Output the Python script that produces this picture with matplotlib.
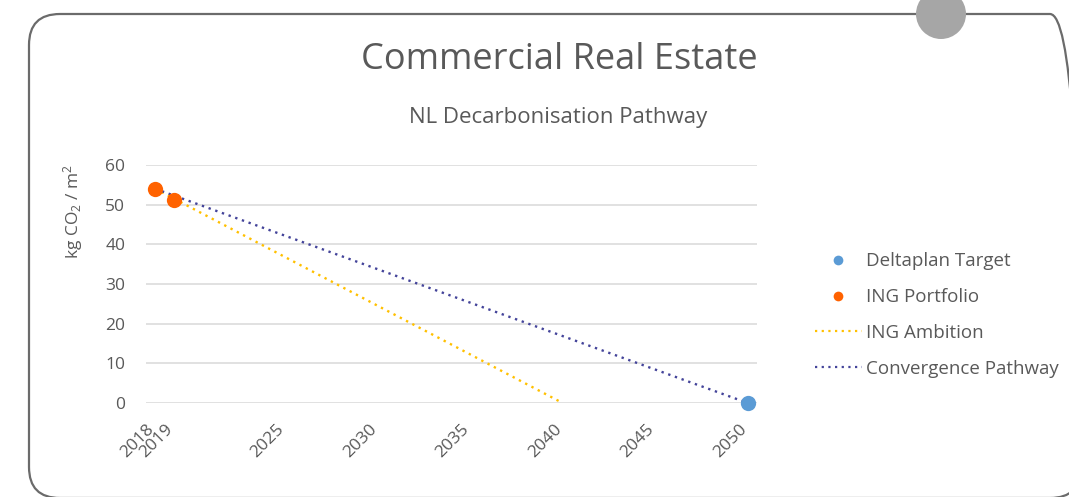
import matplotlib.pyplot as plt
from matplotlib.patches import FancyBboxPatch, Circle
from matplotlib.lines import Line2D
from matplotlib.transforms import ScaledTranslation

plt.rcParams['font.family'] = ['Open Sans', 'DejaVu Sans']
plt.rcParams['mathtext.default'] = 'regular'

# data
portfolio_years = [2018, 2019]
portfolio_vals = [54, 51.3]
target_years = [2050]
target_vals = [0]
ambition_years = [2018, 2040]
ambition_vals = [54, 0]
convergence_years = [2018, 2050]
convergence_vals = [54, 0]
xticks = [2018, 2019, 2025, 2030, 2035, 2040, 2045, 2050]
yticks = [0, 10, 20, 30, 40, 50, 60]

grey = "#595959"
W, H = 1069, 497

fig = plt.figure(figsize=(W / 100, H / 100), dpi=100)

# rounded frame and grey dot (pixel coords)
frame = FancyBboxPatch((29, -1), 1052, 484, boxstyle="round,pad=0,rounding_size=31",
                       transform=None, fc="none", ec="#6b6b6b", lw=1.6)
fig.patches.append(frame)
dot = Circle((941, H - 14), 25, transform=None, fc="#a6a6a6", ec="none")
fig.patches.append(dot)

ax = fig.add_axes([146 / W, 1 - 403 / H, (757 - 146) / W, (403 - 165) / H])
ax.set_xlim(2017.5, 2050.5)
ax.set_ylim(0, 60)
for s in ax.spines.values():
    s.set_visible(False)
ax.set_yticks(yticks)
ax.set_xticks(xticks)
ax.set_xticklabels([])
ax.grid(axis="y", color="#d9d9d9", lw=1.1)
ax.set_axisbelow(True)
ax.tick_params(length=0, colors=grey, labelsize=12.5)
ax.tick_params(axis="y", pad=15)

# rotated year labels
off = ScaledTranslation(-9 / 100, -18 / 100, fig.dpi_scale_trans)
for yr in xticks:
    ax.text(yr, 0, str(yr), transform=ax.get_xaxis_transform() + off, rotation=45,
            ha="right", va="top", rotation_mode="anchor", fontsize=12.5, color=grey)

ax.plot(ambition_years, ambition_vals, ls=(0, (1, 2)), color="#FFC000", lw=1.7,
        clip_on=False)
ax.plot(convergence_years, convergence_vals, ls=(0, (1, 2)), color="#44449a", lw=1.7,
        clip_on=False)
ax.plot(portfolio_years, portfolio_vals, "o", color="#FF6200", ms=11, mec="none",
        clip_on=False, zorder=5)
ax.plot(target_years, target_vals, "o", color="#5B9BD5", ms=11, mec="none",
        clip_on=False, zorder=5)

handles = [
    Line2D([], [], ls="none", marker="o", color="#5B9BD5", ms=7, mec="none"),
    Line2D([], [], ls="none", marker="o", color="#FF6200", ms=7, mec="none"),
    Line2D([], [], ls=(0, (1, 2)), color="#FFC000", lw=1.6),
    Line2D([], [], ls=(0, (1, 2)), color="#44449a", lw=1.6),
]
labels = ["Deltaplan Target", "ING Portfolio", "ING Ambition", "Convergence Pathway"]
fig.legend(handles, labels, loc="center left", bbox_to_anchor=(815 / W, 1 - 315 / H),
           frameon=False, fontsize=13.5, labelcolor=grey, handlelength=2.5,
           handletextpad=0.2, labelspacing=0.95, borderpad=0, borderaxespad=0)

fig.text(559 / W, 1 - 60 / H, "Commercial Real Estate", ha="center", va="center",
         fontsize=26, color=grey)
fig.text(558 / W, 1 - 118 / H, "NL Decarbonisation Pathway", ha="center", va="center",
         fontsize=16, color=grey)
fig.text(73 / W, 1 - 212 / H, "kg CO$_2$ / m$^2$", ha="center", va="center",
         rotation=90, fontsize=12.5, color=grey)

fig.savefig("out.png", dpi=100)
